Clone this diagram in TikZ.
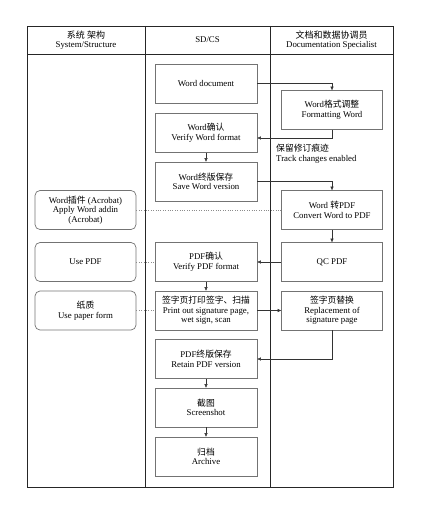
\documentclass[tikz,border=0pt]{standalone}
\usepackage{fontspec}
\setmainfont{Liberation Serif}
\newfontfamily\cjk{Noto Sans CJK SC}
\usetikzlibrary{arrows.meta}
\begin{document}
\begin{tikzpicture}[x=1pt,y=-1pt,thin,
    lane/.style={draw=black!85,line width=0.9pt},
    step box/.style={rectangle,draw=black!55,line width=0.7pt,minimum width=102pt,minimum height=39pt,align=center,inner sep=1pt},
    sys box/.style={step box,rounded corners=5pt,minimum width=101pt},
    head/.style={align=center},
    flow/.style={draw=black!80,-{Triangle[length=3.5pt,width=3pt]}},
    link/.style={draw=black!45,dotted},
    every node/.style={font=\fontsize{8.8}{9.6}\selectfont}]
        \useasboundingbox (0,0) rectangle (425,513);

        % swim lanes
        \draw[lane] (27,26) rectangle (393,487);
        \draw[lane] (27,54) -- (393,54);
        \draw[lane] (145,26) -- (145,487);
        \draw[lane] (270,26) -- (270,487);
        \node[head] at (86,40) (h1) {{\cjk\small 系统 架构}\\System/Structure};
        \node[head] at (207.5,40) (h2) {SD/CS};
        \node[head] at (331.5,40) (h3) {{\cjk\small 文档和数据协调员}\\Documentation Specialist};

        % SD/CS
        \node[step box] at (206,83.5) (doc) {Word document};
        \node[step box] at (206,133) (verw) {Word{\cjk 确认}\\Verify Word format};
        \node[step box] at (206,181.5) (savew) {Word{\cjk 终版保存}\\Save Word version};
        \node[step box] at (206,262) (verp) {PDF{\cjk 确认}\\Verify PDF format};
        \node[step box] at (206,310.5) (print) {{\cjk 签字页打印签字、扫描}\\Print out signature page,\\wet sign, scan};
        \node[step box] at (206,359) (retain) {PDF{\cjk 终版保存}\\Retain PDF version};
        \node[step box] at (206,407.5) (shot) {{\cjk 截图}\\Screenshot};
        \node[step box] at (206,456.5) (arch) {{\cjk 归档}\\Archive};

        % Documentation Specialist
        \node[step box,minimum width=101pt] at (332,110) (fmt) {Word{\cjk 格式调整}\\Formatting Word};
        \node[step box,minimum width=101pt] at (332,210) (conv) {Word {\cjk 转}PDF\\Convert Word to PDF};
        \node[step box,minimum width=101pt] at (332,262) (qc) {QC PDF};
        \node[step box,minimum width=101pt] at (332,310.5) (repl) {{\cjk 签字页替换}\\Replacement of\\signature page};
        \node[align=left,anchor=north west,inner sep=1pt] at (275,143) (track) {{\cjk 保留修订痕迹}\\Track changes enabled};

        % System/Structure
        \node[sys box] at (85.5,210) (addin) {Word{\cjk 插件} (Acrobat)\\Apply Word addin\\(Acrobat)};
        \node[sys box] at (85.5,262) (usepdf) {Use PDF};
        \node[sys box] at (85.5,310.5) (paper) {{\cjk 纸质}\\Use paper form};

        \draw[flow] (doc.east) -| (fmt.north);
        \draw[flow] (fmt.south) |- ([yshift=-5pt]verw.east);
        \draw[flow] (verw) -- (savew);
        \draw[flow] (savew.east) -| (conv.north);
        \draw[flow] (conv) -- (qc);
        \draw[flow] (qc) -- (verp);
        \draw[flow] (verp) -- (print);
        \draw[flow] (print) -- (repl);
        \draw[flow] (repl.south) |- (retain.east);
        \draw[flow] (retain) -- (shot);
        \draw[flow] (shot) -- (arch);

        \draw[link] (addin) -- (conv);
        \draw[link] (usepdf) -- (verp);
        \draw[link] (paper) -- (print);
\end{tikzpicture}
\end{document}
